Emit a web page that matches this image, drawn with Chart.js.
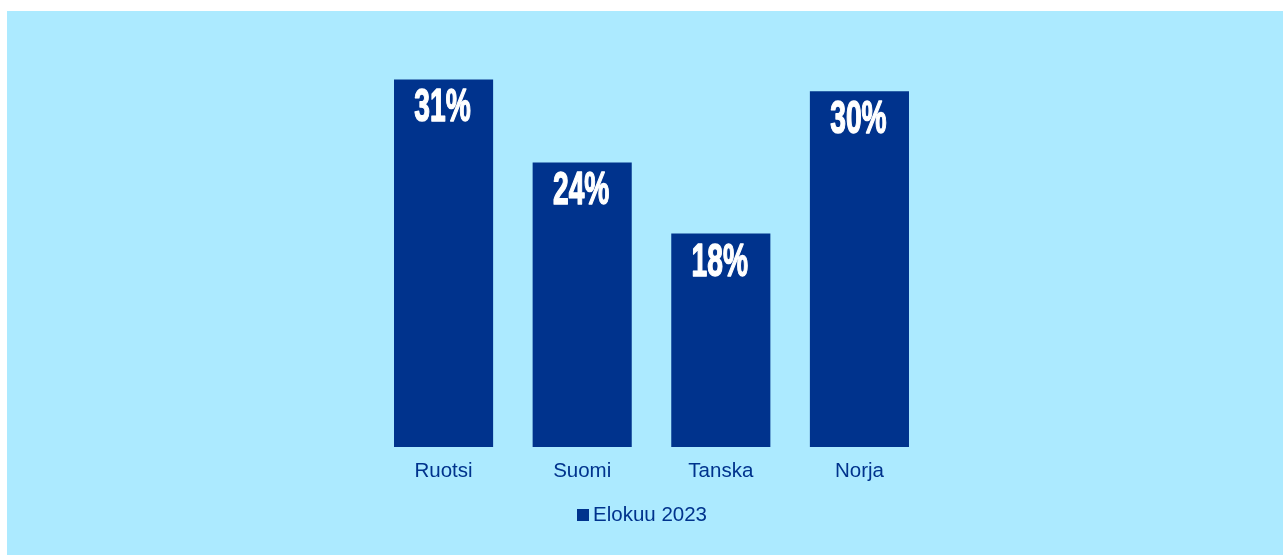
<!DOCTYPE html>
<html lang="fi">
<head>
<meta charset="utf-8">
<title>Elokuu 2023</title>
<script src="https://cdn.jsdelivr.net/npm/chart.js@4/dist/chart.umd.min.js"></script>
<style>
  html, body { margin: 0; padding: 0; background: #ffffff; }
  #panel {
    position: absolute; left: 7px; top: 11px;
    width: 1276px; height: 544px;
    background: #ACEAFF;
  }
  canvas { display: block; }
</style>
</head>
<body>
<div id="panel"><canvas id="chart" width="1276" height="544"></canvas></div>
<script>
// Maat ja osuudet (%)
const categories = ['Ruotsi', 'Suomi', 'Tanska', 'Norja'];
const seriesName = 'Elokuu 2023';
const values = [31, 24, 18, 30];

const BLUE = '#00338D';
const TEXT_FONT = "'Liberation Sans', Arial, sans-serif";

// Valkoiset kapeat arvotekstit palkkien yläosaan
const valueLabels = {
  id: 'valueLabels',
  afterDatasetsDraw(chart) {
    const ctx = chart.ctx;
    const meta = chart.getDatasetMeta(0);
    const data = chart.data.datasets[0].data;
    ctx.save();
    ctx.fillStyle = '#ffffff';
    ctx.strokeStyle = '#ffffff';
    ctx.lineWidth = 1.5;
    ctx.lineJoin = 'round';
    ctx.font = "bold 47px " + TEXT_FONT;
    ctx.textAlign = 'center';
    ctx.textBaseline = 'alphabetic';
    meta.data.forEach((bar, i) => {
      const txt = data[i] + '%';
      ctx.save();
      ctx.translate(bar.x - 1, bar.y + 42);
      ctx.scale(0.6, 1);
      ctx.fillText(txt, 0, 0);
      ctx.strokeText(txt, 0, 0);
      ctx.restore();
    });
    ctx.restore();
  }
};

// Selite: neliö ja sarjan nimi keskitettynä alareunaan
const bottomLegend = {
  id: 'bottomLegend',
  afterDraw(chart) {
    const ctx = chart.ctx;
    const ds = chart.data.datasets[0];
    ctx.save();
    ctx.font = "20.5px " + TEXT_FONT;
    const tw = ctx.measureText(ds.label).width;
    const box = 12, gap = 4;
    const total = box + gap + tw;
    const x0 = Math.round((chart.width - total) / 2) - 3;
    ctx.fillStyle = ds.backgroundColor;
    ctx.fillRect(x0, 498, box, box);
    ctx.fillStyle = BLUE;
    ctx.textAlign = 'left';
    ctx.textBaseline = 'alphabetic';
    ctx.fillText(ds.label, x0 + box + gap, 510);
    ctx.restore();
  }
};

new Chart(document.getElementById('chart'), {
  type: 'bar',
  data: {
    labels: categories,
    datasets: [{
      label: seriesName,
      data: values,
      backgroundColor: BLUE,
      borderWidth: 0,
      barPercentage: 1,
      categoryPercentage: 0.715
    }]
  },
  options: {
    responsive: false,
    animation: false,
    devicePixelRatio: 1,
    layout: { padding: { left: 367.25, right: 354.25, top: 21, bottom: 59.4 } },
    plugins: {
      legend: { display: false },
      tooltip: { enabled: false }
    },
    scales: {
      x: {
        grid: { display: false, drawTicks: false },
        border: { display: false },
        ticks: {
          color: BLUE,
          padding: 12,
          font: { family: TEXT_FONT, size: 20.5 }
        }
      },
      y: {
        display: false,
        min: 0,
        max: 35
      }
    }
  },
  plugins: [valueLabels, bottomLegend]
});
</script>
</body>
</html>
